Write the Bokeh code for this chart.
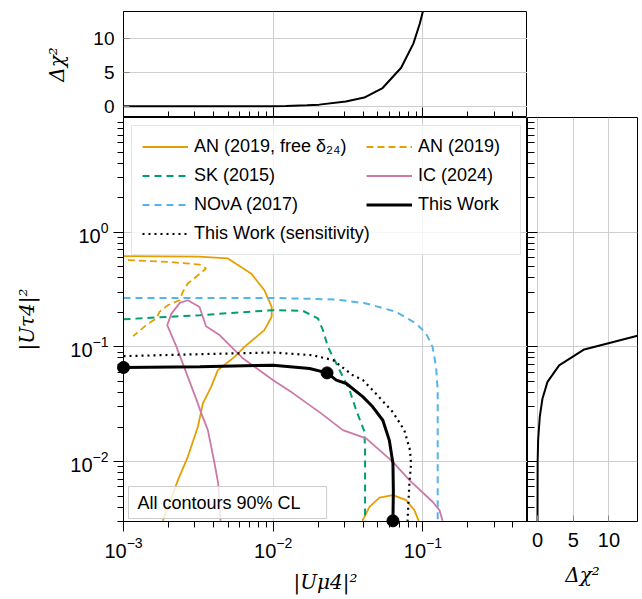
from bokeh.plotting import figure
from bokeh.layouts import gridplot
from bokeh.models import Range1d, FixedTicker, Legend, LegendItem, Label
from bokeh.embed import file_html
from bokeh.resources import INLINE

# ---------------- data ----------------
# AN (2019, free delta24): main contour and small island near the bottom
an_free_x = [0.00183, 0.00231, 0.00269, 0.00314, 0.00339, 0.00385, 0.00427, 0.00551,
             0.00643, 0.00873, 0.00977, 0.00977, 0.00873, 0.00711, 0.00498, 0.00316, 0.00100]
an_free_y = [0.00304, 0.00689, 0.0110, 0.0201, 0.0321, 0.0448, 0.0627, 0.0818,
             0.100, 0.140, 0.183, 0.223, 0.312, 0.437, 0.590, 0.612, 0.618]
an_island_x = [0.0394, 0.0440, 0.0513, 0.0630, 0.0773, 0.0877, 0.0938]
an_island_y = [0.00304, 0.00403, 0.00485, 0.00509, 0.00460, 0.00377, 0.00304]

# AN (2019)
an_x = [0.00107, 0.00198, 0.00322, 0.00356, 0.00305, 0.00269, 0.00249, 0.00237,
        0.00198, 0.00174, 0.00166, 0.00142, 0.00116]
an_y = [0.570, 0.551, 0.522, 0.482, 0.407, 0.357, 0.302, 0.255,
        0.231, 0.202, 0.177, 0.155, 0.124]

# SK (2015)
sk_x = [0.00100, 0.00324, 0.0100, 0.0158, 0.0199, 0.0215, 0.0232, 0.0264, 0.0324,
        0.0358, 0.0407, 0.0411, 0.0411]
sk_y = [0.174, 0.189, 0.209, 0.206, 0.177, 0.140, 0.100, 0.0716, 0.0419,
        0.0281, 0.0182, 0.0126, 0.00304]

# NOvA (2017)
nova_x = [0.00100, 0.0100, 0.0264, 0.0418, 0.0662, 0.0902, 0.105, 0.116, 0.1225, 0.1256, 0.1256]
nova_y = [0.267, 0.267, 0.259, 0.239, 0.202, 0.160, 0.131, 0.100, 0.067, 0.0419, 0.00304]

# IC (2024)
ic_x = [0.00445, 0.00429, 0.00406, 0.00366, 0.00331, 0.00308, 0.00264, 0.00226, 0.00196,
        0.00209, 0.00238, 0.00269, 0.00322, 0.00356, 0.00440, 0.00630, 0.0100, 0.0136,
        0.0209, 0.0292, 0.0418, 0.0630, 0.0813, 0.116, 0.129, 0.1355]
ic_y = [0.00304, 0.00646, 0.00962, 0.0188, 0.0263, 0.0343, 0.0585, 0.100, 0.155,
        0.195, 0.242, 0.255, 0.223, 0.151, 0.126, 0.0791, 0.0512, 0.0393,
        0.0263, 0.0188, 0.0159, 0.00993, 0.00689, 0.00446, 0.00377, 0.00304]

# This Work
tw_x = [0.00100, 0.00324, 0.0100, 0.0175, 0.0229, 0.0264, 0.0308, 0.0398, 0.0440,
        0.0462, 0.0540, 0.0597, 0.0631, 0.0635, 0.0631]
tw_y = [0.0661, 0.0670, 0.0692, 0.0647, 0.0593, 0.0513, 0.0479, 0.0366, 0.0321,
        0.0300, 0.0229, 0.0153, 0.0096, 0.0056, 0.00304]
tw_pts_x = [0.00100, 0.0229, 0.0631]
tw_pts_y = [0.0661, 0.0593, 0.00304]

# This Work (sensitivity)
sens_x = [0.00100, 0.00324, 0.0100, 0.0184, 0.0251, 0.0340, 0.0397, 0.0462, 0.0630,
          0.0752, 0.0820, 0.0834, 0.0813, 0.0790]
sens_y = [0.0830, 0.0863, 0.0893, 0.0845, 0.0766, 0.0566, 0.0513, 0.0419, 0.0270,
          0.0187, 0.0126, 0.0096, 0.0065, 0.00304]

# Profiles: delta chi^2 vs |U_mu4|^2 (top) and vs |U_tau4|^2 (right)
prof_mu_x = [0.00100, 0.00300, 0.0100, 0.0122, 0.0168, 0.0203, 0.0306, 0.0406, 0.0538,
             0.0716, 0.0865, 0.0953, 0.1000]
prof_mu_chi = [0.0, 0.0, 0.0, 0.05, 0.15, 0.25, 0.72, 1.3, 2.7, 5.7, 9.3, 12.2, 14.0]
prof_tau_y = [0.00300, 0.0100, 0.0154, 0.0246, 0.0355, 0.0495, 0.0690, 0.0950, 0.125]
prof_tau_chi = [0.0, 0.02, 0.09, 0.32, 0.70, 1.40, 3.03, 6.54, 14.0]

x_major = [1e-3, 1e-2, 1e-1]
y_major = [1e-2, 1e-1, 1.0]
chi_ticks = [0, 5, 10]

# ---------------- styling ----------------
FONT = "Liberation Sans"
MATH = "DejaVu Serif"
ORANGE, GREEN, BLUE, PINK = "#E69F00", "#009E73", "#56B4E9", "#CC79A7"
GRID = "#cfcfcf"

LEFT, MAIN_W, MAIN_H = 123, 404, 404
TOP_H, SIDE_W, TOP_PAD, BOTTOM, RIGHT_PAD = 106, 110, 11, 78, 5
TICK_FS = "20px"

x_minor = [m * d for d in (1e-3, 1e-2, 1e-1) for m in range(2, 10) if m * d <= 0.5]
y_minor = [m * d for d in (1e-3, 1e-2, 1e-1, 1.0) for m in range(2, 10) if 3e-3 <= m * d <= 10]

x_rng = Range1d(1e-3, 0.5)
y_rng = Range1d(3e-3, 10)


def style(fig):
    fig.outline_line_color = "black"
    fig.outline_line_alpha = 1.0
    fig.outline_line_width = 1
    fig.border_fill_color = "white"
    fig.background_fill_color = "white"
    for g in fig.grid:
        g.grid_line_color = GRID
        g.grid_line_width = 1
    for ax in fig.axis:
        ax.axis_line_color = "black"
        ax.major_tick_line_color = "black"
        ax.minor_tick_line_color = "black"
        ax.major_label_text_font = FONT
        ax.major_label_text_color = "black"
        ax.axis_label_text_font = MATH
        ax.axis_label_text_font_style = "italic"
        ax.axis_label_text_color = "black"
        ax.axis_label_text_font_size = "20px"


def hide_labels(ax):
    ax.major_label_text_font_size = "1px"
    ax.major_label_text_alpha = 0.0
    ax.major_label_standoff = 0


# ---- main panel ----
main = figure(x_axis_type="log", y_axis_type="log", x_range=x_rng, y_range=y_rng,
              frame_width=MAIN_W, frame_height=MAIN_H,
              min_border_left=LEFT, min_border_right=0, min_border_top=0,
              min_border_bottom=BOTTOM, output_backend="svg", toolbar_location=None)
style(main)
xt = FixedTicker(ticks=x_major, minor_ticks=x_minor)
yt = FixedTicker(ticks=y_major, minor_ticks=y_minor)
main.xaxis[0].ticker = xt
main.yaxis[0].ticker = yt
main.xgrid[0].ticker = xt
main.ygrid[0].ticker = yt
for ax in (main.xaxis[0], main.yaxis[0]):
    ax.major_tick_out = 10
    ax.major_tick_in = 0
    ax.minor_tick_out = 6
    ax.minor_tick_in = 0
    ax.major_label_text_font_size = TICK_FS
main.xaxis[0].major_label_standoff = 5
main.yaxis[0].major_label_standoff = 5
main.xaxis[0].axis_label = "|U\u03bc4|\u00b2"
main.yaxis[0].axis_label = "|U\u03c44|\u00b2"
main.xaxis[0].axis_label_standoff = 9
main.yaxis[0].axis_label_standoff = 28

r_an_free = main.line(an_free_x, an_free_y, line_color=ORANGE, line_width=1.8)
main.line(an_island_x, an_island_y, line_color=ORANGE, line_width=1.8)
r_an = main.line(an_x, an_y, line_color=ORANGE, line_width=1.8, line_dash="7 4")
r_sk = main.line(sk_x, sk_y, line_color=GREEN, line_width=2, line_dash="7 5")
r_nova = main.line(nova_x, nova_y, line_color=BLUE, line_width=2, line_dash="7 5")
r_ic = main.line(ic_x, ic_y, line_color=PINK, line_width=1.8)
r_sens = main.line(sens_x, sens_y, line_color="black", line_width=2.2, line_dash="2 4")
r_tw = main.line(tw_x, tw_y, line_color="black", line_width=3)
main.scatter(tw_pts_x, tw_pts_y, size=12, color="black", level="overlay")


def legend_style(lg):
    lg.label_text_font = FONT
    lg.label_text_font_size = "18px"
    lg.label_text_color = "black"
    lg.glyph_width = 46
    lg.glyph_height = 21
    lg.label_height = 21
    lg.label_standoff = 6
    lg.spacing = 8
    lg.padding = 10
    lg.margin = 0


# left column of the legend carries the frame of the whole legend box
legend_a = Legend(items=[
    LegendItem(label="AN (2019, free \u03b4\u2082\u2084)", renderers=[r_an_free]),
    LegendItem(label="SK (2015)", renderers=[r_sk]),
    LegendItem(label="NO\u03bdA (2017)", renderers=[r_nova]),
    LegendItem(label="This Work (sensitivity)", renderers=[r_sens]),
], location=(8, 266))
legend_style(legend_a)
legend_a.label_width = 316
legend_a.border_line_color = "#cccccc"
legend_a.border_line_width = 1
legend_a.background_fill_alpha = 0.8
main.add_layout(legend_a)

legend_b = Legend(items=[
    LegendItem(label="AN (2019)", renderers=[r_an]),
    LegendItem(label="IC (2024)", renderers=[r_ic]),
    LegendItem(label="This Work", renderers=[r_tw]),
], location=(243, 306))
legend_style(legend_b)
legend_b.border_line_color = None
legend_b.background_fill_alpha = 0.0
main.add_layout(legend_b)

note = Label(x=5, y=19, x_units="screen", y_units="screen", text="All contours 90% CL",
             text_font=FONT, text_font_size="18px", text_color="black", text_baseline="middle",
             background_fill_color="white", background_fill_alpha=0.8,
             border_line_color="#cccccc", border_line_width=1,
             padding=dict(left=9, right=26, top=6, bottom=6))
main.add_layout(note)

# ---- top panel ----
top = figure(x_axis_type="log", x_range=x_rng, y_range=Range1d(-1.65, 14),
             frame_width=MAIN_W, frame_height=TOP_H,
             min_border_left=LEFT, min_border_right=0, min_border_top=TOP_PAD,
             min_border_bottom=0, output_backend="svg", toolbar_location=None)
style(top)
xt2 = FixedTicker(ticks=x_major, minor_ticks=x_minor)
ct = FixedTicker(ticks=chi_ticks, minor_ticks=[])
top.xaxis[0].ticker = xt2
top.xgrid[0].ticker = xt2
top.yaxis[0].ticker = ct
top.ygrid[0].ticker = ct
tx = top.xaxis[0]
hide_labels(tx)
tx.major_tick_in = 10
tx.major_tick_out = 0
tx.minor_tick_in = 6
tx.minor_tick_out = 0
ty = top.yaxis[0]
ty.major_tick_in = 6
ty.major_tick_out = 0
ty.major_tick_line_color = "#888888"
ty.major_label_text_font_size = "19px"
ty.major_label_standoff = 9
ty.axis_label = "\u0394\u03c7\u00b2"
ty.axis_label_standoff = 21
top.line(prof_mu_x, prof_mu_chi, line_color="black", line_width=2)

# ---- side panel ----
side = figure(y_axis_type="log", y_range=y_rng, x_range=Range1d(-1.4, 14),
              frame_width=SIDE_W, frame_height=MAIN_H,
              min_border_left=0, min_border_right=RIGHT_PAD, min_border_top=0,
              min_border_bottom=BOTTOM, output_backend="svg", toolbar_location=None)
style(side)
yt3 = FixedTicker(ticks=y_major, minor_ticks=y_minor)
ct3 = FixedTicker(ticks=chi_ticks, minor_ticks=[])
side.yaxis[0].ticker = yt3
side.ygrid[0].ticker = yt3
side.xaxis[0].ticker = ct3
side.xgrid[0].ticker = ct3
sy = side.yaxis[0]
hide_labels(sy)
sy.major_tick_in = 10
sy.major_tick_out = 0
sy.minor_tick_in = 7
sy.minor_tick_out = 0
sx = side.xaxis[0]
sx.major_tick_in = 6
sx.major_tick_out = 0
sx.major_tick_line_color = "#888888"
sx.major_label_text_font_size = TICK_FS
sx.major_label_standoff = 11
sx.axis_label = "\u0394\u03c7\u00b2"
sx.axis_label_standoff = 13
side.line(prof_tau_chi, prof_tau_y, line_color="black", line_width=2)

grid = gridplot([[top, None], [main, side]], toolbar_location=None)

open("out.html", "w").write(file_html(grid, INLINE))
